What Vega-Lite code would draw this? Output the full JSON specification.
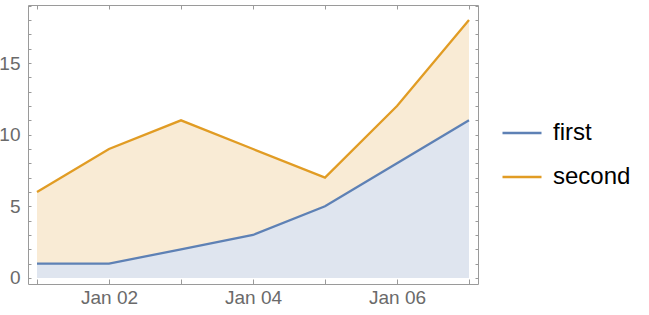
{
  "$schema": "https://vega.github.io/schema/vega-lite/v6.json",
  "autosize": "none",
  "width": 450,
  "height": 279,
  "padding": {"left": 28, "top": 5, "right": 171, "bottom": 31},
  "background": "white",
  "config": {
    "view": {"stroke": "#9a9a9a", "strokeWidth": 1},
    "font": "Liberation Sans",
    "axis": {"domain": false, "grid": false, "labelFont": "Liberation Sans", "labelColor": "#6a6a6a", "labelFontSize": 19, "tickColor": "#9a9a9a", "title": null}
  },
  "data": {
    "values": [
      {"date": "2024-01-01T00:00:00", "first": 1, "second": 6},
      {"date": "2024-01-02T00:00:00", "first": 1, "second": 9},
      {"date": "2024-01-03T00:00:00", "first": 2, "second": 11},
      {"date": "2024-01-04T00:00:00", "first": 3, "second": 9},
      {"date": "2024-01-05T00:00:00", "first": 5, "second": 7},
      {"date": "2024-01-06T00:00:00", "first": 8, "second": 12},
      {"date": "2024-01-07T00:00:00", "first": 11, "second": 18}
    ]
  },
  "resolve": {"axis": {"x": "independent", "y": "independent"}},
  "layer": [
    {
      "mark": {"type": "area", "color": "#f9ebd5"},
      "encoding": {
        "x": {
          "field": "date", "type": "temporal",
          "scale": {"domain": [{"year": 2023, "month": 12, "date": 31, "hours": 21}, {"year": 2024, "month": 1, "date": 7, "hours": 3}]},
          "axis": {
            "orient": "bottom",
            "values": [{"year": 2024, "month": 1, "date": 1}, {"year": 2024, "month": 1, "date": 2}, {"year": 2024, "month": 1, "date": 3}, {"year": 2024, "month": 1, "date": 4}, {"year": 2024, "month": 1, "date": 5}, {"year": 2024, "month": 1, "date": 6}, {"year": 2024, "month": 1, "date": 7}],
            "tickSize": -5,
            "labelPadding": 9,
            "labelExpr": "date(datum.value) % 2 === 0 ? timeFormat(datum.value, '%b %d') : ''"
          }
        },
        "y": {
          "field": "first", "type": "quantitative",
          "scale": {"domain": [-0.42, 19.05], "nice": false, "zero": false},
          "axis": {
            "orient": "left",
            "values": [0, 1, 2, 3, 4, 5, 6, 7, 8, 9, 10, 11, 12, 13, 14, 15, 16, 17, 18, 19],
            "tickSize": -3,
            "labelPadding": 11,
            "labelExpr": "datum.value % 5 === 0 ? datum.label : ''",
            "encode": {"ticks": {"update": {"x2": {"signal": "datum.value % 5 === 0 ? 6 : 3"}}}}
          }
        },
        "y2": {"field": "second"}
      }
    },
    {
      "mark": {"type": "area", "color": "#dfe5ef"},
      "encoding": {
        "x": {"field": "date", "type": "temporal", "axis": null},
        "y": {"field": "first", "type": "quantitative", "axis": null},
        "y2": {"datum": 0}
      }
    },
    {
      "transform": [{"fold": ["first", "second"], "as": ["series", "value"]}],
      "mark": {"type": "line", "strokeWidth": 2.3},
      "encoding": {
        "x": {
          "field": "date", "type": "temporal",
          "axis": {
            "orient": "top",
            "values": [{"year": 2024, "month": 1, "date": 1}, {"year": 2024, "month": 1, "date": 2}, {"year": 2024, "month": 1, "date": 3}, {"year": 2024, "month": 1, "date": 4}, {"year": 2024, "month": 1, "date": 5}, {"year": 2024, "month": 1, "date": 6}, {"year": 2024, "month": 1, "date": 7}],
            "tickSize": -4,
            "labels": false
          }
        },
        "y": {
          "field": "value", "type": "quantitative",
          "axis": {
            "orient": "right",
            "values": [0, 1, 2, 3, 4, 5, 6, 7, 8, 9, 10, 11, 12, 13, 14, 15, 16, 17, 18, 19],
            "tickSize": -3,
            "labels": false,
            "encode": {"ticks": {"update": {"x2": {"signal": "datum.value % 5 === 0 ? -6 : -3"}}}}
          }
        },
        "color": {
          "field": "series", "type": "nominal",
          "scale": {"domain": ["first", "second"], "range": ["#5e81b5", "#e19c24"]},
          "legend": {
            "title": null,
            "orient": "none",
            "legendX": 473,
            "legendY": 107,
            "symbolType": "stroke",
            "symbolSize": 1521,
            "symbolStrokeWidth": 2.5,
            "labelFont": "Liberation Sans",
            "labelFontSize": 24,
            "labelColor": "black",
            "labelOffset": 10,
            "rowPadding": 11
          }
        }
      }
    }
  ]
}
